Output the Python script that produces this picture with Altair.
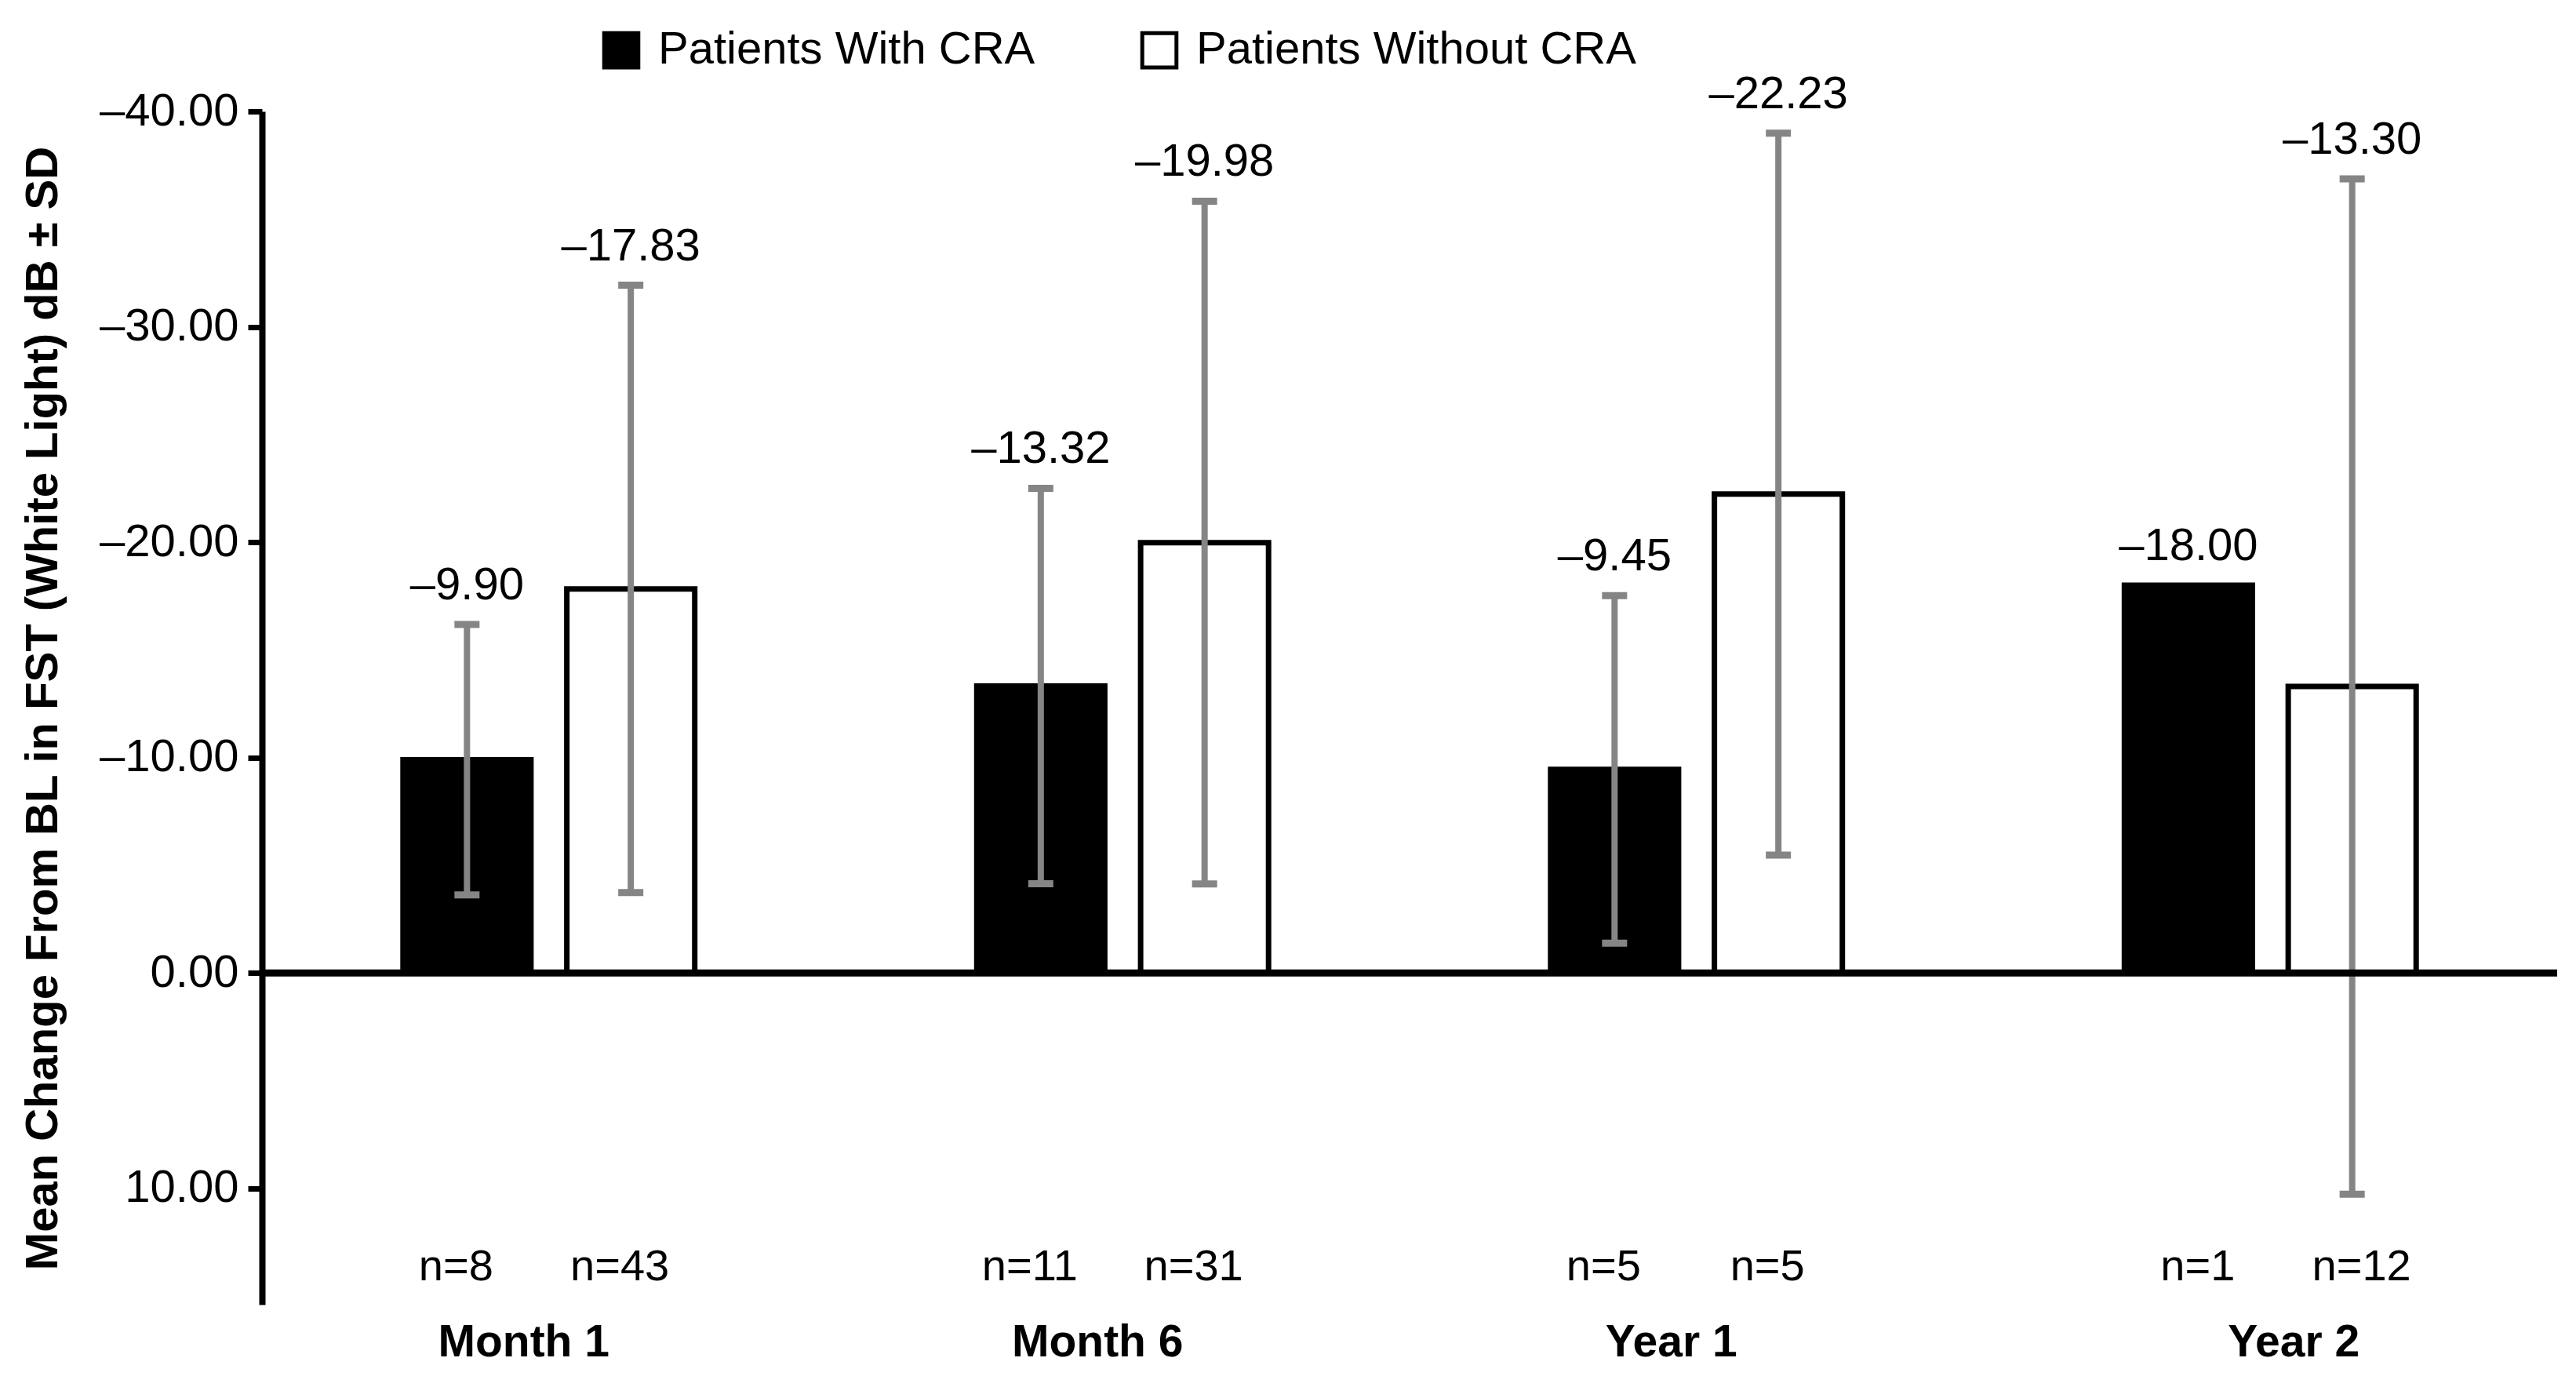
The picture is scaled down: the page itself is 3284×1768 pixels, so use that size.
import altair as alt
import pandas as pd

periods = ["Month 1", "Month 6", "Year 1", "Year 2"]
groups = ["Patients With CRA", "Patients Without CRA"]
with_mean = [-9.90, -13.32, -9.45, -18.00]
with_sd = [6.28, 9.18, 8.07, None]
with_n = [8, 11, 5, 1]
without_mean = [-17.83, -19.98, -22.23, -13.30]
without_sd = [14.10, 15.85, 16.76, 23.57]
without_n = [43, 31, 5, 12]
y_ticks = [-40, -30, -20, -10, 0, 10]

DASH = "\u2013"
rows = []
for i, p in enumerate(periods):
    for g, m, s, n in ((groups[0], with_mean[i], with_sd[i], with_n[i]),
                       (groups[1], without_mean[i], without_sd[i], without_n[i])):
        rows.append(dict(
            period=p, group=g, mean=m, sd=s, n=n,
            lo=(m - s) if s is not None else None,
            hi=(m + s) if s is not None else None,
            top=(m - s) if s is not None else m,
            label=DASH + f"{abs(m):.2f}",
            nlabel=f"n={n}",
        ))
df = pd.DataFrame(rows)
err = df.dropna(subset=["sd"])
zero_df = pd.DataFrame({"z": [0]})

FONT = "Liberation Sans"
GREY = "#858585"

x_enc = alt.X("period:N", sort=periods,
              scale=alt.Scale(paddingInner=0, paddingOuter=0),
              axis=alt.Axis(title=None, labelAngle=0, labelFont=FONT, labelFontSize=57,
                            labelFontWeight="bold", labelColor="black", domain=False,
                            ticks=False, labelPadding=20, labelLimit=0,
                            labelOffset={"condition": {"test": "datum.value === 'Year 2'", "value": 30},
                                         "value": -32}))
xo_enc = alt.XOffset("group:N", sort=groups,
                     scale=alt.Scale(domain=groups, paddingInner=0.219, paddingOuter=0.861))
y_scale = alt.Scale(domain=[-40, 15.4], reverse=True, nice=False, zero=False)
Y_TITLE = "Mean Change From BL in FST (White Light) dB \u00b1 SD"
y_axis = alt.Axis(
    title=Y_TITLE,
    values=y_ticks,
    labelExpr=f"datum.value < 0 ? '{DASH}' + format(-datum.value, '.2f') : format(datum.value, '.2f')",
    labelFont=FONT, labelFontSize=58, labelColor="black", labelPadding=12,
    tickSize=18, tickWidth=7, tickColor="black",
    domainColor="black", domainWidth=8, grid=False,
    titleFont=FONT, titleFontSize=58, titleFontWeight="bold", titleColor="black",
    titlePadding=50,
)

bars = alt.Chart(df).mark_bar(stroke="black", strokeWidth=7).encode(
    x=x_enc,
    xOffset=xo_enc,
    y=alt.Y("mean:Q", scale=y_scale, axis=y_axis, title=Y_TITLE),
    y2=alt.datum(0),
    fill=alt.Fill("group:N", scale=alt.Scale(domain=groups, range=["black", "white"]),
                  legend=alt.Legend(title=None, orient="none", legendX=429, legendY=-107,
                                    direction="horizontal", symbolType="square",
                                    symbolSize=1900, symbolStrokeColor="black",
                                    symbolStrokeWidth=5, labelFont=FONT, labelFontSize=58,
                                    labelColor="black", labelLimit=0, columnPadding=126,
                                    labelOffset=18, padding=0)),
)

zero_rule = alt.Chart(zero_df).mark_rule(color="black", strokeWidth=9).encode(
    y=alt.Y("z:Q", scale=y_scale, axis=y_axis, title=Y_TITLE)
)

err_rule = alt.Chart(err).mark_rule(color=GREY, strokeWidth=8).encode(
    x=x_enc, xOffset=xo_enc,
    y=alt.Y("lo:Q", scale=y_scale, axis=y_axis, title=Y_TITLE), y2="hi:Q",
)
cap_lo = alt.Chart(err).mark_tick(color=GREY, orient="horizontal", size=32, thickness=9, opacity=1).encode(
    x=x_enc, xOffset=xo_enc, y=alt.Y("lo:Q", scale=y_scale, axis=y_axis, title=Y_TITLE),
)
cap_hi = alt.Chart(err).mark_tick(color=GREY, orient="horizontal", size=32, thickness=9, opacity=1).encode(
    x=x_enc, xOffset=xo_enc, y=alt.Y("hi:Q", scale=y_scale, axis=y_axis, title=Y_TITLE),
)

val_text = alt.Chart(df).mark_text(baseline="bottom", dy=-20, font=FONT, fontSize=58, color="black").encode(
    x=x_enc, xOffset=xo_enc, y=alt.Y("top:Q", scale=y_scale, axis=y_axis, title=Y_TITLE), text="label:N",
)
n_text = alt.Chart(df).mark_text(baseline="middle", dx=-14, font=FONT, fontSize=56, color="black").encode(
    x=x_enc, xOffset=xo_enc, y=alt.datum(13.66), text="nlabel:N",
).transform_filter("datum.period !== 'Year 2'")
n_text2 = alt.Chart(df).mark_text(baseline="middle", dx=12, font=FONT, fontSize=56, color="black").encode(
    x=x_enc, xOffset=xo_enc, y=alt.datum(13.66), text="nlabel:N",
).transform_filter("datum.period === 'Year 2'")

chart = alt.layer(bars, err_rule, cap_lo, cap_hi, zero_rule, val_text, n_text, n_text2).properties(
    width=2926, height=1521, background="white",
    padding={"left": 18, "top": 27, "right": 3, "bottom": 5},
).configure_view(stroke=None)

chart.save("out.html", embed_options={"renderer": "svg", "actions": False})
